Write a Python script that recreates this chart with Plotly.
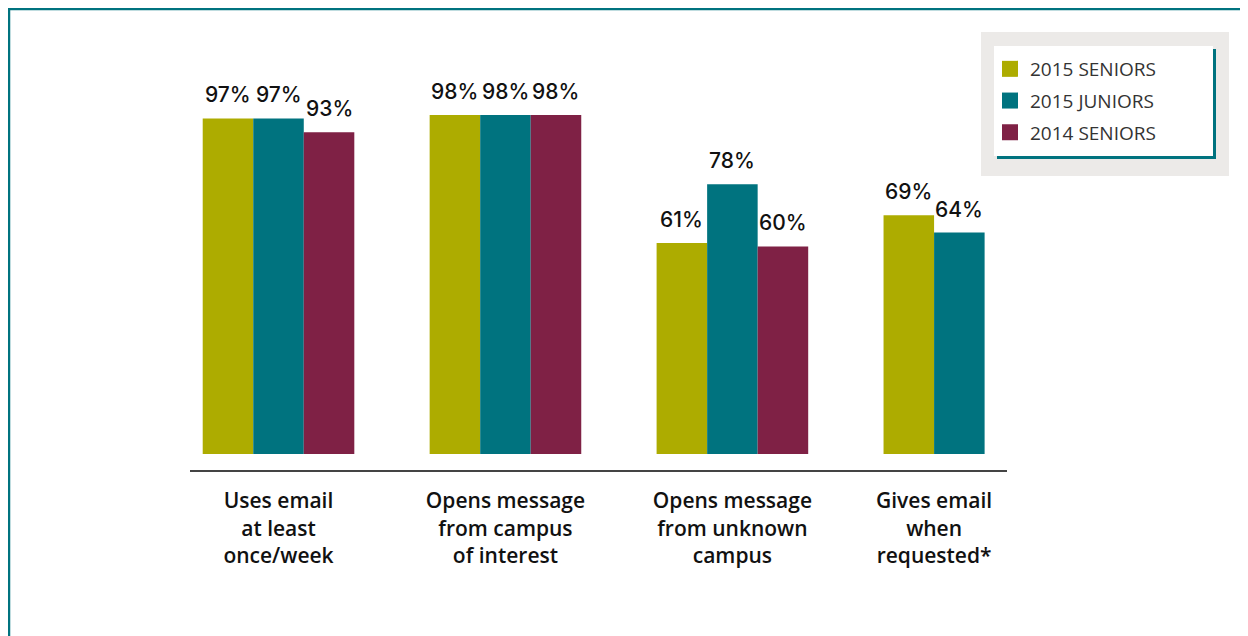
import plotly.graph_objects as go

categories = ["Uses email<br>at least<br>once/week",
              "Opens message<br>from campus<br>of interest",
              "Opens message<br>from unknown<br>campus",
              "Gives email<br>when<br>requested*"]
series_names = ["2015 SENIORS", "2015 JUNIORS", "2014 SENIORS"]
seniors_2015 = [97, 98, 61, 69]
juniors_2015 = [97, 98, 78, 64]
seniors_2014 = [93, 98, 60, None]
colors = ["#ADAC00", "#00737F", "#7F2145"]

W, H = 1248, 636
OFF = 8  # page body margin
# plot area in page pixels
PL, PR, PT, PB = 190, 1007, 60, 470
L, R, T, B = PL - OFF, PR - OFF, PT - OFF, PB - OFF
YMIN, YMAX = -4.62, 113.9
BARGAP = 0.332


def px2x(p):
    return (p - OFF - L) / (R - L)


def px2y(p):
    return (B - (p - OFF)) / (B - T)


xs = list(range(len(categories)))
series = [seniors_2015, juniors_2015, seniors_2014]
nser = len(series)
barw = (1 - BARGAP) / nser


def bar_x(i, j):
    return xs[j] + (i - (nser - 1) / 2) * barw


# tick label centred on the bars actually present in each category
tick_pos = []
for j in range(len(xs)):
    present = [bar_x(i, j) for i in range(nser) if series[i][j] is not None]
    tick_pos.append(sum(present) / len(present))

fig = go.Figure()
for name, vals, col in zip(series_names, series, colors):
    fig.add_trace(go.Bar(
        x=xs, y=vals, name=name, showlegend=False,
        marker=dict(color=col, line=dict(width=0)),
        hoverinfo="skip",
    ))
# legend entries
for name, col in zip(series_names, colors):
    fig.add_trace(go.Scatter(
        x=[None], y=[None], mode="markers", name=name, legendgroup=name,
        marker=dict(symbol="square", size=17, color=col, line=dict(width=0)),
    ))

annotations = []
for i, vals in enumerate(series):
    for j, v in enumerate(vals):
        if v is None:
            continue
        annotations.append(dict(
            x=bar_x(i, j), y=v, xref="x", yref="y",
            text=f"{v}%", showarrow=False, yanchor="bottom", xanchor="center",
            yshift=9,
            font=dict(family="Inter", size=21, color="#111111", weight=500),
        ))

TEAL = "#00737F"
shapes = [
    # frame
    dict(type="line", xref="paper", yref="paper", x0=px2x(8), x1=px2x(W + 10), y0=px2y(9), y1=px2y(9),
         line=dict(color=TEAL, width=2.5)),
    dict(type="line", xref="paper", yref="paper", x0=px2x(9), x1=px2x(9), y0=px2y(8), y1=px2y(H + 10),
         line=dict(color=TEAL, width=2.5)),
    # legend box
    dict(type="rect", xref="paper", yref="paper", x0=px2x(981), x1=px2x(1229), y0=px2y(32), y1=px2y(176),
         fillcolor="#ECEAE8", line=dict(width=0), layer="above"),
    dict(type="rect", xref="paper", yref="paper", x0=px2x(997), x1=px2x(1216), y0=px2y(49), y1=px2y(159),
         fillcolor=TEAL, line=dict(width=0), layer="above"),
    dict(type="rect", xref="paper", yref="paper", x0=px2x(994), x1=px2x(1213), y0=px2y(46), y1=px2y(156),
         fillcolor="#FFFFFF", line=dict(width=0), layer="above"),
]

fig.update_layout(
    width=W, height=H,
    margin=dict(l=L, r=W - R, t=T, b=H - B, pad=0),
    paper_bgcolor="white", plot_bgcolor="white",
    barmode="group", bargap=BARGAP, bargroupgap=0,
    font=dict(family="Open Sans", color="#111111"),
    showlegend=True,
    legend=dict(x=px2x(990), y=px2y(50), xanchor="left", yanchor="top",
                bgcolor="rgba(0,0,0,0)", borderwidth=0,
                font=dict(family="Open Sans", size=19, color="#333333"),
                traceorder="grouped", tracegroupgap=4, itemclick=False, itemwidth=30),
    shapes=shapes,
    annotations=annotations,
    xaxis=dict(range=[-0.39, 3.21], tickvals=tick_pos, ticktext=categories,
               showgrid=False, zeroline=False, showline=True, linecolor="#444444", linewidth=2,
               ticks="outside", ticklen=11, tickcolor="rgba(0,0,0,0)",
               tickfont=dict(family="Open Sans", size=21, color="#111111", weight=600)),
    yaxis=dict(range=[YMIN, YMAX], visible=False, showgrid=False, zeroline=False),
)

fig.write_html("out.html")
